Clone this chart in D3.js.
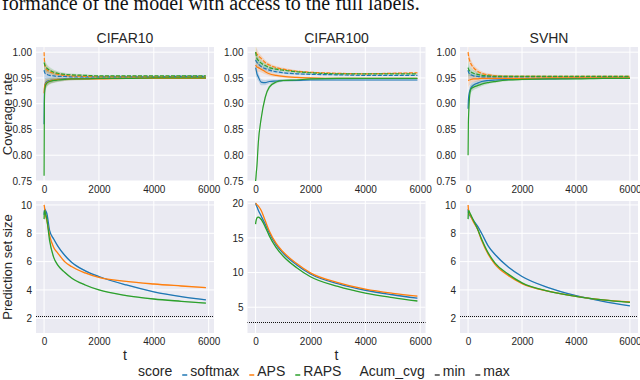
<!DOCTYPE html>
<html>
<head>
<meta charset="utf-8">
<script src="https://cdn.jsdelivr.net/npm/d3@7"></script>
<style>
  body { margin: 0; background: #fff; }
  svg { display: block; }
</style>
</head>
<body>
<div id="chart"></div>
<script>
// --- data ---
const datasets = ["CIFAR10", "CIFAR100", "SVHN"];
const scores = ["softmax", "APS", "RAPS"];

// time steps where values were read
const tCifar = [0, 10, 25, 50, 100, 200, 350, 500, 750, 1000, 1500, 2000, 3000, 4000, 5000, 5900];
const tSvhn  = [0, 10, 25, 50, 100, 200, 350, 500, 750, 1000, 1500, 2000, 3000, 4000, 5000, 6000];

// cumulative coverage, min and max curves
const cifar10CovMax = {
  softmax: [0.965, 0.962, 0.960, 0.958, 0.957, 0.955, 0.954, 0.953, 0.953, 0.952, 0.952, 0.952, 0.952, 0.952, 0.953, 0.953],
  APS:     [1.000, 0.985, 0.975, 0.970, 0.966, 0.962, 0.959, 0.957, 0.955, 0.954, 0.953, 0.952, 0.952, 0.952, 0.952, 0.952],
  RAPS:    [0.980, 0.978, 0.975, 0.972, 0.969, 0.965, 0.961, 0.959, 0.957, 0.956, 0.955, 0.954, 0.954, 0.954, 0.954, 0.954]
};
const cifar10CovMin = {
  softmax: [0.860, 0.920, 0.935, 0.940, 0.943, 0.945, 0.946, 0.947, 0.948, 0.948, 0.949, 0.949, 0.949, 0.949, 0.949, 0.949],
  APS:     [0.920, 0.930, 0.935, 0.938, 0.941, 0.944, 0.946, 0.947, 0.947, 0.948, 0.948, 0.948, 0.949, 0.949, 0.949, 0.949],
  RAPS:    [0.760, 0.900, 0.925, 0.935, 0.940, 0.943, 0.945, 0.946, 0.947, 0.948, 0.948, 0.949, 0.949, 0.950, 0.950, 0.950]
};
const cifar100CovMax = {
  softmax: [0.985, 0.984, 0.982, 0.980, 0.977, 0.972, 0.968, 0.965, 0.962, 0.960, 0.958, 0.957, 0.956, 0.955, 0.955, 0.955],
  APS:     [1.000, 0.999, 0.998, 0.996, 0.993, 0.988, 0.980, 0.975, 0.970, 0.967, 0.963, 0.961, 0.959, 0.958, 0.959, 0.960],
  RAPS:    [1.000, 0.997, 0.993, 0.988, 0.984, 0.979, 0.974, 0.970, 0.967, 0.965, 0.962, 0.960, 0.958, 0.958, 0.958, 0.958]
};
const cifar100CovMin = {
  softmax: [0.970, 0.968, 0.964, 0.958, 0.952, 0.942, 0.941, 0.943, 0.944, 0.945, 0.945, 0.946, 0.946, 0.946, 0.946, 0.946],
  APS:     [0.975, 0.974, 0.973, 0.971, 0.970, 0.967, 0.962, 0.958, 0.955, 0.953, 0.951, 0.950, 0.949, 0.949, 0.949, 0.949],
  RAPS:    [0.750, 0.755, 0.765, 0.780, 0.825, 0.870, 0.912, 0.932, 0.942, 0.945, 0.946, 0.948, 0.949, 0.949, 0.949, 0.949]
};
const svhnCovMax = {
  softmax: [0.965, 0.962, 0.960, 0.958, 0.956, 0.954, 0.953, 0.952, 0.952, 0.952, 0.952, 0.952, 0.952, 0.952, 0.952, 0.952],
  APS:     [1.000, 0.995, 0.990, 0.985, 0.978, 0.970, 0.963, 0.959, 0.956, 0.954, 0.953, 0.953, 0.953, 0.953, 0.953, 0.953],
  RAPS:    [0.970, 0.968, 0.966, 0.964, 0.962, 0.959, 0.957, 0.955, 0.954, 0.953, 0.953, 0.953, 0.953, 0.953, 0.953, 0.953]
};
const svhnCovMin = {
  softmax: [0.890, 0.905, 0.915, 0.922, 0.930, 0.936, 0.940, 0.943, 0.945, 0.946, 0.947, 0.948, 0.948, 0.949, 0.949, 0.949],
  APS:     [0.945, 0.945, 0.946, 0.946, 0.947, 0.948, 0.948, 0.949, 0.949, 0.949, 0.949, 0.949, 0.950, 0.950, 0.950, 0.950],
  RAPS:    [0.800, 0.860, 0.885, 0.910, 0.928, 0.932, 0.935, 0.938, 0.941, 0.943, 0.946, 0.947, 0.948, 0.948, 0.949, 0.949]
};

// average prediction set size
const cifar10Size = {
  softmax: [9.3, 9.6, 9.7, 9.6, 9.4, 8.2, 7.6, 7.1, 6.45, 5.95, 5.35, 4.95, 4.35, 3.87, 3.53, 3.3],
  APS:     [10.0, 9.9, 9.6, 9.3, 8.9, 7.85, 7.0, 6.6, 6.0, 5.65, 5.2, 4.88, 4.6, 4.42, 4.28, 4.16],
  RAPS:    [9.0, 9.5, 9.6, 9.4, 9.0, 7.5, 6.3, 5.75, 5.25, 4.85, 4.35, 4.0, 3.6, 3.36, 3.2, 3.07]
};
const cifar100Size = {
  softmax: [20.0, 19.9, 19.7, 19.5, 19.0, 18.2, 17.0, 15.7, 14.0, 12.8, 11.1, 9.8, 8.4, 7.45, 6.8, 6.3],
  APS:     [20.0, 20.0, 19.9, 19.8, 19.6, 19.0, 17.5, 16.0, 14.2, 13.0, 11.3, 9.95, 8.55, 7.6, 7.0, 6.6],
  RAPS:    [17.0, 17.3, 17.6, 17.9, 18.0, 17.7, 16.6, 15.3, 13.6, 12.4, 10.7, 9.4, 8.0, 7.05, 6.4, 5.9]
};
const svhnSize = {
  softmax: [9.7, 9.5, 9.4, 9.3, 9.2, 8.9, 8.5, 8.0, 7.1, 6.5, 5.6, 4.95, 4.15, 3.6, 3.2, 2.88],
  APS:     [10.0, 9.7, 9.5, 9.4, 9.2, 8.8, 8.3, 7.5, 6.5, 5.8, 5.0, 4.45, 3.9, 3.55, 3.3, 3.15],
  RAPS:    [9.0, 9.5, 9.6, 9.5, 9.3, 8.9, 8.3, 7.6, 6.6, 5.9, 5.1, 4.5, 3.9, 3.55, 3.3, 3.12]
};

// dotted reference line in the size panels
const sizeRef = [2.15, 2.84, 2.14];

// half widths of the light confidence bands
const covBand  = [0.02, 0.015, 0.012, 0.01, 0.008, 0.006, 0.005, 0.004, 0.003, 0.0025, 0.002, 0.0015, 0.0012, 0.001, 0.001, 0.001];
const sizeBand = [0.3, 0.25, 0.2, 0.15, 0.12, 0.1, 0.08, 0.07, 0.06, 0.05, 0.05, 0.04, 0.04, 0.04, 0.04, 0.04];

// tick values
const xTicks = [0, 2000, 4000, 6000];
const covTicks = [0.75, 0.80, 0.85, 0.90, 0.95, 1.00];
const sizeTicks = [[2, 4, 6, 8, 10], [5, 10, 15, 20], [2, 4, 6, 8, 10]];

// --- layout ---
const width = 640, height = 380;
const colX = [36, 247.5, 460];
const colW = 178;
const topRow = [47, 181];
const botRow = [201, 333];
const covDomain = [0.75, 1.01];
const sizeDomains = [[0.96, 10.28], [1.28, 20.33], [0.96, 10.28]];
const color = d3.scaleOrdinal().domain(scores).range(["#1f77b4", "#ff7f0e", "#2ca02c"]);
const textCol = "#262626";
const font = "'Liberation Sans', Arial, Helvetica, sans-serif";

const covMax = [cifar10CovMax, cifar100CovMax, svhnCovMax];
const covMin = [cifar10CovMin, cifar100CovMin, svhnCovMin];
const sizes = [cifar10Size, cifar100Size, svhnSize];
const tSteps = [tCifar, tCifar, tSvhn];

const svg = d3.select("#chart")
  .append("svg")
  .attr("width", width)
  .attr("height", height)
  .style("font-family", font);

// caption from the page above the figure (cut off at the top)
svg.append("text")
  .attr("x", 2)
  .attr("y", 10)
  .style("font-family", "'Liberation Serif', 'Times New Roman', serif")
  .style("font-size", "20px")
  .attr("fill", "#111")
  .text("formance of the model with access to the full labels.");

function panel(i, row, yDomain, yTicks, yFmt) {
  const t = tSteps[i];
  const tEnd = t[t.length - 1];
  const x = d3.scaleLinear().domain([-0.05 * tEnd, 1.05 * tEnd]).range([colX[i], colX[i] + colW]);
  const y = d3.scaleLinear().domain(yDomain).range([row[1], row[0]]);

  const g = svg.append("g");
  g.append("rect")
    .attr("x", colX[i]).attr("y", row[0])
    .attr("width", colW).attr("height", row[1] - row[0])
    .attr("fill", "#eaeaf2");

  // grid
  g.selectAll(".gx").data(xTicks).join("line")
    .attr("x1", d => x(d)).attr("x2", d => x(d))
    .attr("y1", row[0]).attr("y2", row[1])
    .attr("stroke", "#fff").attr("stroke-width", 1);
  g.selectAll(".gy").data(yTicks).join("line")
    .attr("x1", colX[i]).attr("x2", colX[i] + colW)
    .attr("y1", d => y(d)).attr("y2", d => y(d))
    .attr("stroke", "#fff").attr("stroke-width", 1);

  // axes
  const ax = g.append("g")
    .attr("transform", `translate(0,${row[1]})`)
    .call(d3.axisBottom(x).tickValues(xTicks).tickSize(0).tickPadding(5).tickFormat(d3.format("d")));
  const ay = g.append("g")
    .attr("transform", `translate(${colX[i]},0)`)
    .call(d3.axisLeft(y).tickValues(yTicks).tickSize(0).tickPadding(4).tickFormat(yFmt));
  [ax, ay].forEach(a => {
    a.select(".domain").remove();
    a.selectAll("text").attr("fill", textCol).style("font-size", "10px").style("font-family", font);
  });

  const clipId = `clip-${i}-${row[0]}`;
  svg.append("clipPath").attr("id", clipId)
    .append("rect")
    .attr("x", colX[i]).attr("y", row[0])
    .attr("width", colW).attr("height", row[1] - row[0]);
  const plot = g.append("g").attr("clip-path", `url(#${clipId})`);

  return { x, y, t, plot };
}

datasets.forEach((name, i) => {
  // coverage row
  const top = panel(i, topRow, covDomain, covTicks, d3.format(".2f"));
  const line = d3.line().x(d => top.x(d.t)).y(d => top.y(d.v)).curve(d3.curveMonotoneX);
  const area = d3.area().x(d => top.x(d.t)).y0(d => top.y(d.v - d.b)).y1(d => top.y(d.v + d.b)).curve(d3.curveMonotoneX);

  scores.forEach(s => {
    [covMin[i][s], covMax[i][s]].forEach(vals => {
      const pts = top.t.map((tt, j) => ({ t: tt, v: vals[j], b: covBand[j] }));
      top.plot.append("path").attr("d", area(pts)).attr("fill", color(s)).attr("opacity", 0.2);
    });
  });
  scores.forEach(s => {
    const ptsMin = top.t.map((tt, j) => ({ t: tt, v: covMin[i][s][j] }));
    const ptsMax = top.t.map((tt, j) => ({ t: tt, v: covMax[i][s][j] }));
    top.plot.append("path").attr("d", line(ptsMin))
      .attr("fill", "none").attr("stroke", color(s)).attr("stroke-width", 1.2);
    top.plot.append("path").attr("d", line(ptsMax))
      .attr("fill", "none").attr("stroke", color(s)).attr("stroke-width", 1.2)
      .attr("stroke-dasharray", "4,1.5");
  });

  svg.append("text")
    .attr("x", colX[i] + colW / 2).attr("y", topRow[0] - 4)
    .attr("text-anchor", "middle")
    .attr("fill", textCol)
    .style("font-size", "14px")
    .text(name);

  // set size row
  const bot = panel(i, botRow, sizeDomains[i], sizeTicks[i], d3.format("d"));
  const line2 = d3.line().x(d => bot.x(d.t)).y(d => bot.y(d.v)).curve(d3.curveMonotoneX);
  const area2 = d3.area().x(d => bot.x(d.t)).y0(d => bot.y(d.v - d.b)).y1(d => bot.y(d.v + d.b)).curve(d3.curveMonotoneX);

  scores.forEach(s => {
    const pts = bot.t.map((tt, j) => ({ t: tt, v: sizes[i][s][j], b: sizeBand[j] }));
    bot.plot.append("path").attr("d", area2(pts)).attr("fill", color(s)).attr("opacity", 0.2);
  });
  scores.forEach(s => {
    const pts = bot.t.map((tt, j) => ({ t: tt, v: sizes[i][s][j] }));
    bot.plot.append("path").attr("d", line2(pts))
      .attr("fill", "none").attr("stroke", color(s)).attr("stroke-width", 1.3);
  });

  // dotted reference line, snapped to the pixel grid so the dots stay crisp
  const yRef = Math.round(bot.y(sizeRef[i])) + 0.5;
  bot.plot.append("line")
    .attr("x1", Math.floor(colX[i])).attr("x2", Math.ceil(colX[i] + colW))
    .attr("y1", yRef).attr("y2", yRef)
    .attr("stroke", "#111").attr("stroke-width", 1)
    .attr("stroke-dasharray", "1,1")
    .attr("shape-rendering", "crispEdges");
});

// axis labels
svg.append("text")
  .attr("transform", `translate(12,${(topRow[0] + topRow[1]) / 2}) rotate(-90)`)
  .attr("text-anchor", "middle").attr("fill", textCol)
  .style("font-size", "13px")
  .text("Coverage rate");
svg.append("text")
  .attr("transform", `translate(12,${(botRow[0] + botRow[1]) / 2}) rotate(-90)`)
  .attr("text-anchor", "middle").attr("fill", textCol)
  .style("font-size", "13px")
  .text("Prediction set size");

[0, 1].forEach(i => {
  svg.append("text")
    .attr("x", colX[i] + colW / 2).attr("y", 360)
    .attr("text-anchor", "middle").attr("fill", textCol)
    .style("font-size", "14px")
    .text("t");
});

// legend
const legendItems = [
  { label: "score" },
  { label: "softmax", stroke: color("softmax") },
  { label: "APS", stroke: color("APS") },
  { label: "RAPS", stroke: color("RAPS") },
  { label: "Acum_cvg" },
  { label: "min", stroke: "#444" },
  { label: "max", stroke: "#444" }
];
let cx = 130;
const legendY = 376;
legendItems.forEach(it => {
  if (it.stroke) {
    svg.append("line")
      .attr("x1", cx).attr("x2", cx + 5)
      .attr("y1", legendY - 1).attr("y2", legendY - 1)
      .attr("stroke", it.stroke).attr("stroke-width", 1.5);
  }
  const txt = svg.append("text")
    .attr("x", cx + 8).attr("y", legendY)
    .attr("fill", textCol)
    .style("font-size", "14px")
    .text(it.label);
  cx += 8 + txt.node().getComputedTextLength() + 10;
});
</script>
</body>
</html>
